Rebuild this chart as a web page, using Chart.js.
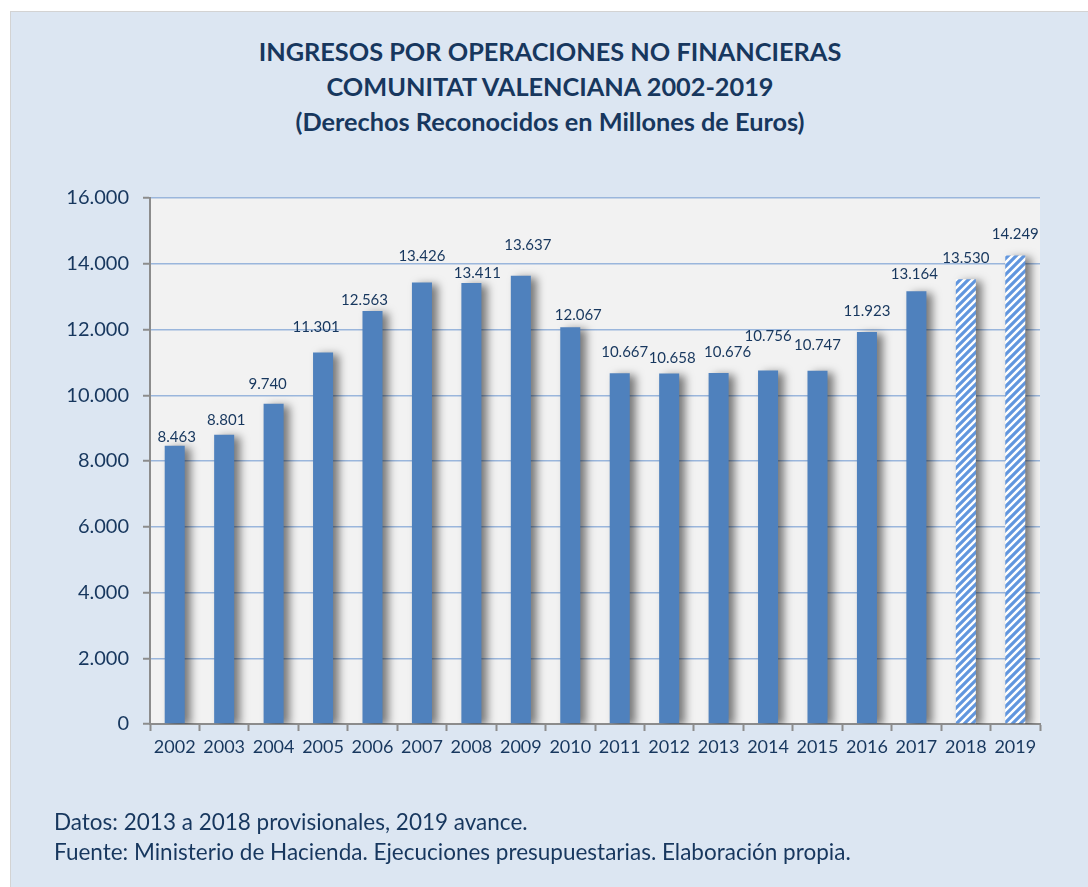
<!DOCTYPE html>
<html lang="es">
<head>
<meta charset="utf-8">
<title>Ingresos por operaciones no financieras</title>
<script src="https://cdn.jsdelivr.net/npm/chart.js@4.4.1/dist/chart.umd.min.js"></script>
<style>
  html, body { margin: 0; padding: 0; background: #fff; }
  body { width: 1088px; height: 887px; position: relative; overflow: hidden; font-family: Lato, "Open Sans", sans-serif; }
  .frame {
    position: absolute; left: 10px; top: 11px; width: 1100px; height: 900px;
    background: #dce6f2; border: 1px solid #d3d3d3;
  }
  .title {
    position: absolute; left: 0; width: 1100px; top: 34px; text-align: center;
    color: #17375e; font-weight: bold; font-size: 25.3px; line-height: 35px;
  }
  .notes {
    position: absolute; left: 54px; top: 807px; color: #17375e;
    font-size: 22.5px; line-height: 30px;
  }
  #chart { position: absolute; left: 0; top: 0; }
</style>
</head>
<body>
<div class="frame"></div>
<div class="title">
  INGRESOS POR OPERACIONES NO FINANCIERAS<br>
  COMUNITAT VALENCIANA 2002-2019<br>
  (Derechos Reconocidos en Millones de Euros)
</div>
<canvas id="chart" width="1088" height="887"></canvas>
<div class="notes">
  Datos: 2013 a 2018 provisionales, 2019 avance.<br>
  Fuente: Ministerio de Hacienda. Ejecuciones presupuestarias. Elaboración propia.
</div>

<script>
  // años y derechos reconocidos (millones de euros)
  const years = ['2002', '2003', '2004', '2005', '2006', '2007', '2008', '2009', '2010',
                 '2011', '2012', '2013', '2014', '2015', '2016', '2017', '2018', '2019'];
  const ingresos = [8463, 8801, 9740, 11301, 12563, 13426, 13411, 13637, 12067,
                    10667, 10658, 10676, 10756, 10747, 11923, 13164, 13530, 14249];
  // 2018 y 2019 van rayados (provisional / avance)
  const provisional = ['2018', '2019'];
  const yTicks = [0, 2000, 4000, 6000, 8000, 10000, 12000, 14000, 16000];

  // desplazamiento de cada etiqueta respecto a la barra (como lo coloca Excel)
  const labelShift = [[2, -9], [2, -15], [-6, -20], [-7, -25], [-8, -11], [0, -26], [6, -10], [7, -31], [8, -12],
                      [5, -21], [3, -15], [9, -21], [0, -34], [0, -26], [0, -21], [-2, -17], [0, -21], [0, -21]];

  const navy = '#17375e';
  const barBlue = '#4f81bd';
  const fontFamily = 'Lato, "Open Sans", sans-serif';

  function fmt(n) {
    return String(n).replace(/\B(?=(\d{3})+(?!\d))/g, '.');
  }

  function stripes() {
    const c = document.createElement('canvas');
    c.width = 8; c.height = 8;
    const g = c.getContext('2d');
    g.fillStyle = '#ffffff';
    g.fillRect(0, 0, 8, 8);
    g.strokeStyle = '#6196de';
    g.lineWidth = 3.2;
    g.beginPath();
    g.moveTo(-2, 10); g.lineTo(10, -2);
    g.moveTo(-6, 6); g.lineTo(6, -6);
    g.moveTo(2, 14); g.lineTo(14, 2);
    g.stroke();
    return g.createPattern(c, 'repeat');
  }
  const hatch = stripes();

  const plotBg = {
    id: 'plotBg',
    beforeDraw(chart) {
      const a = chart.chartArea, ctx = chart.ctx;
      ctx.save();
      ctx.fillStyle = '#f2f2f2';
      ctx.fillRect(a.left, a.top, a.right - a.left, a.bottom - a.top);
      ctx.restore();
    }
  };

  const barShadow = {
    id: 'barShadow',
    beforeDatasetsDraw(chart) {
      const ctx = chart.ctx;
      ctx.save();
      ctx.shadowColor = 'rgba(0,0,0,0.5)';
      ctx.shadowBlur = 9;
      ctx.shadowOffsetX = 6;
      ctx.shadowOffsetY = 2;
    },
    afterDatasetsDraw(chart) {
      chart.ctx.restore();
    }
  };

  const valueLabels = {
    id: 'valueLabels',
    afterDatasetsDraw(chart) {
      const ctx = chart.ctx;
      const meta = chart.getDatasetMeta(0);
      ctx.save();
      ctx.fillStyle = navy;
      ctx.font = '15px ' + fontFamily;
      ctx.textAlign = 'center';
      ctx.textBaseline = 'middle';
      meta.data.forEach((bar, i) => {
        const s = labelShift[i] || [0, -15];
        ctx.fillText(fmt(ingresos[i]), bar.x + s[0], bar.y + s[1]);
      });
      ctx.restore();
    }
  };

  new Chart(document.getElementById('chart'), {
    type: 'bar',
    data: {
      labels: years,
      datasets: [{
        data: ingresos,
        backgroundColor: years.map(y => provisional.includes(y) ? hatch : barBlue),
        borderWidth: 0,
        categoryPercentage: 1,
        barPercentage: 0.405
      }]
    },
    options: {
      responsive: false,
      animation: false,
      layout: { padding: { left: 10, top: 198, right: 48, bottom: 123 } },
      plugins: {
        legend: { display: false },
        tooltip: { enabled: false }
      },
      scales: {
        x: {
          grid: {
            display: true,
            offset: true,
            drawOnChartArea: false,
            drawTicks: true,
            tickLength: 7,
            tickWidth: 2,
            tickColor: '#8c8c8c'
          },
          border: { display: true, color: '#8c8c8c', width: 2 },
          ticks: { color: navy, font: { family: fontFamily, size: 18 }, padding: 5, maxRotation: 0 },
          afterFit(scale) { scale.height = 40; }
        },
        y: {
          min: 0,
          max: 16000,
          afterBuildTicks(scale) { scale.ticks = yTicks.map(v => ({ value: v })); },
          grid: {
            color: '#9ab6dc',
            lineWidth: 1.5,
            tickLength: 7,
            tickWidth: 2,
            tickColor: '#8c8c8c'
          },
          border: { display: true, color: '#8c8c8c', width: 2 },
          ticks: {
            color: navy,
            font: { family: fontFamily, size: 20 },
            padding: 14,
            callback: v => fmt(v)
          },
          afterFit(scale) { scale.width = 140; }
        }
      }
    },
    plugins: [plotBg, barShadow, valueLabels]
  });
</script>
</body>
</html>
